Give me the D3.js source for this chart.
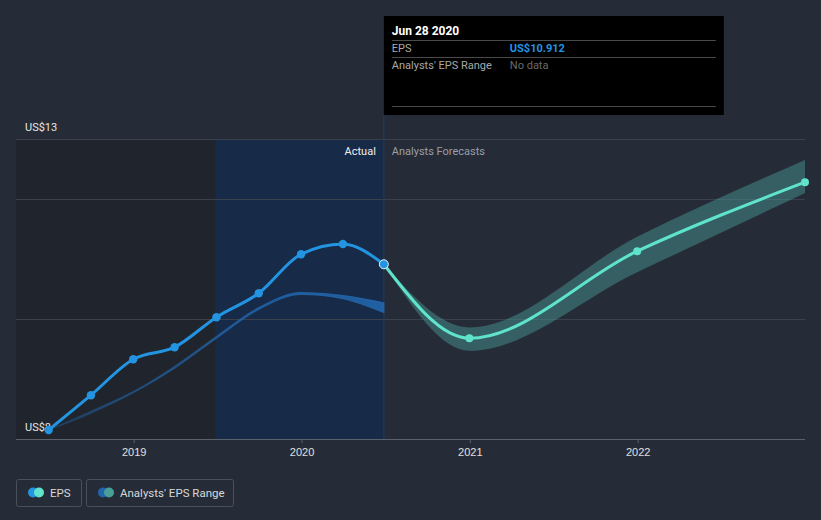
<!DOCTYPE html>
<html><head><meta charset="utf-8">
<script src="https://cdn.jsdelivr.net/npm/d3@7"></script>
<style>
html,body{margin:0;padding:0;background:#262c37;}
svg{display:block;font-family:Roboto,"Open Sans",sans-serif;}
</style></head>
<body><svg id="c" width="821" height="520"></svg>
<script>
// ---- data ----
const actualDates = ["2018-06-30","2018-09-30","2018-12-31","2019-03-31","2019-06-30","2019-09-30","2019-12-31","2020-03-31","2020-06-28"];
const actualEPS   = [8.15, 8.73, 9.33, 9.53, 10.03, 10.43, 11.08, 11.25, 10.912];
const pastRangeLow  = [8.15, 8.43, 8.77, 9.18, 9.68, 10.16, 10.41, 10.34, 10.11];
const pastRangeHigh = [8.15, 8.46, 8.79, 9.21, 9.71, 10.19, 10.44, 10.39, 10.27];
const forecastDates = ["2020-06-28","2020-12-31","2021-12-31","2022-12-31"];
const forecastEPS   = [10.912, 9.68, 11.13, 12.28];
const forecastLow   = [10.912, 9.47, 10.78, 12.10];
const forecastHigh  = [10.912, 9.86, 11.37, 12.65];
const gridValues = [8, 10, 12, 13];
const yTickLabels = [{v:13, t:"US$13"}, {v:8, t:"US$8"}];
const xTickYears = ["2019-01-01","2020-01-01","2021-01-01","2022-01-01"];
const xTickLabels = ["2019","2020","2021","2022"];
const pastStart = "2019-06-28", todayDate = "2020-06-28";

const P = d3.timeParse("%Y-%m-%d");
const svg = d3.select("#c");
const x = d3.scaleTime().domain([P("2018-04-20"), P("2022-12-31")]).range([16, 805]);
const y = d3.scaleLinear().domain([8, 13]).range([439, 139]);

// gradient for past range band
const defs = svg.append("defs");
const grad = defs.append("linearGradient").attr("id","pg").attr("gradientUnits","userSpaceOnUse")
  .attr("x1", x(P(actualDates[0]))).attr("x2", x(P(todayDate))).attr("y1",0).attr("y2",0);
const off = (x(P(pastStart)) - x(P(actualDates[0]))) / (x(P(todayDate)) - x(P(actualDates[0])));
grad.append("stop").attr("offset", 0).attr("stop-color", "#2166ad").attr("stop-opacity", 0.25);
grad.append("stop").attr("offset", off).attr("stop-color", "#2166ad").attr("stop-opacity", 0.6);
grad.append("stop").attr("offset", 1).attr("stop-color", "#2166ad").attr("stop-opacity", 0.9);

// regions
svg.append("rect").attr("x", x.range()[0]).attr("y", y(13)).attr("width", x(P(pastStart)) - x.range()[0]).attr("height", y(8)-y(13)).attr("fill", "#20252d");
svg.append("rect").attr("x", x(P(pastStart))).attr("y", y(13)).attr("width", x(P(todayDate)) - x(P(pastStart))).attr("height", y(8)-y(13)).attr("fill", "#172a47");

// gridlines
svg.selectAll(".g").data(gridValues).enter().append("line")
  .attr("x1", 16).attr("x2", 805).attr("y1", d=>y(d)).attr("y2", d=>y(d))
  .attr("stroke", d=> d===8 ? "#5b616b" : "#3b414c").attr("stroke-width", 1).attr("shape-rendering","crispEdges");

// x axis
const xAxis = d3.axisBottom(x).tickValues(xTickYears.map(P)).tickSize(4).tickFormat((d,i)=>xTickLabels[i]);
const gx = svg.append("g").attr("transform", `translate(0,${y(8)})`).call(xAxis);
gx.select(".domain").remove();
gx.selectAll("line").attr("stroke", "#5b616b");
gx.selectAll("text").attr("fill", "#e0e0e0").attr("font-size", 11).attr("dy", "0.95em");

// y labels
svg.selectAll(".yl").data(yTickLabels).enter().append("text")
  .attr("x", 25).attr("y", d=>y(d.v) - 8).attr("fill", "#e6e6e6").attr("font-size", 11).text(d=>d.t);

// today line
svg.append("line").attr("x1", x(P(todayDate))).attr("x2", x(P(todayDate))).attr("y1", 115).attr("y2", y(8))
  .attr("stroke", "#1e3e68").attr("stroke-width", 1);

// region labels
svg.append("text").attr("x", x(P(todayDate)) - 8).attr("y", 155).attr("text-anchor","end").attr("fill","#f0f0f0").attr("font-size",11).text("Actual");
svg.append("text").attr("x", x(P(todayDate)) + 8).attr("y", 155).attr("fill","#9a9ea6").attr("font-size",11).text("Analysts Forecasts");

const curve = d3.curveMonotoneX;
// past range band
const pastBand = actualDates.map((d,i)=>({d:P(d), lo:pastRangeLow[i], hi:pastRangeHigh[i]}));
svg.append("path").datum(pastBand)
  .attr("d", d3.area().curve(curve).x(d=>x(d.d)).y0(d=>y(d.lo)).y1(d=>y(d.hi)))
  .attr("fill", "url(#pg)").attr("stroke", "url(#pg)").attr("stroke-width", 1.2);

// forecast band
const fBand = forecastDates.map((d,i)=>({d:P(d), lo:forecastLow[i], hi:forecastHigh[i]}));
svg.append("path").datum(fBand)
  .attr("d", d3.area().curve(curve).x(d=>x(d.d)).y0(d=>y(d.lo)).y1(d=>y(d.hi)))
  .attr("fill", "#4a9e98").attr("fill-opacity", 0.45);

// forecast line
const fLine = forecastDates.map((d,i)=>({d:P(d), v:forecastEPS[i]}));
svg.append("path").datum(fLine)
  .attr("d", d3.line().curve(curve).x(d=>x(d.d)).y(d=>y(d.v)))
  .attr("fill","none").attr("stroke","#5fe3cb").attr("stroke-width",3);
svg.selectAll(".fp").data(fLine.slice(1)).enter().append("circle")
  .attr("cx", d=>x(d.d)).attr("cy", d=>y(d.v)).attr("r", 4).attr("fill", "#5fe3cb");

// actual line
const aLine = actualDates.map((d,i)=>({d:P(d), v:actualEPS[i]}));
svg.append("path").datum(aLine)
  .attr("d", d3.line().curve(curve).x(d=>x(d.d)).y(d=>y(d.v)))
  .attr("fill","none").attr("stroke","#2394e1").attr("stroke-width",3);
svg.selectAll(".ap").data(aLine.slice(0,-1)).enter().append("circle")
  .attr("cx", d=>x(d.d)).attr("cy", d=>y(d.v)).attr("r", 4.2).attr("fill", "#2394e1");
const last = aLine[aLine.length-1];
svg.append("circle").attr("cx", x(last.d)).attr("cy", y(last.v)).attr("r", 4.5)
  .attr("fill", "#2394e1").attr("stroke", "#e8f2ff").attr("stroke-width", 1);

// tooltip
const tx = x(P(todayDate));
const tt = svg.append("g").attr("transform", `translate(${tx},16)`);
tt.append("rect").attr("width", 340).attr("height", 99).attr("fill", "#000");
tt.append("text").attr("x", 8).attr("y", 19).attr("fill", "#fff").attr("font-size", 12).attr("font-weight", "bold").text("Jun 28 2020");
[24, 41, 90].forEach(yy=>tt.append("line").attr("x1",8).attr("x2",332).attr("y1",yy+0.5).attr("y2",yy+0.5).attr("stroke","#4a4a4a"));
tt.append("text").attr("x", 8).attr("y", 36).attr("fill", "#a8a8a8").attr("font-size", 11).text("EPS");
tt.append("text").attr("x", 126).attr("y", 36).attr("fill", "#2394e1").attr("font-size", 11).attr("font-weight","bold").text("US$" + actualEPS[actualEPS.length-1].toFixed(3));
tt.append("text").attr("x", 8).attr("y", 53).attr("fill", "#a8a8a8").attr("font-size", 11).text("Analysts' EPS Range");
tt.append("text").attr("x", 126).attr("y", 53).attr("fill", "#6a6a6a").attr("font-size", 11).text("No data");

// legend
const legend = [
  {label:"EPS", x:16, w:65, c1:"#2394e1", c2:"#5fe3cb"},
  {label:"Analysts' EPS Range", x:86, w:147, c1:"#2166ad", c2:"#4a9e98"}
];
const lg = svg.selectAll(".lg").data(legend).enter().append("g").attr("transform", d=>`translate(${d.x},479)`);
lg.append("rect").attr("x",0.5).attr("y",0.5).attr("width", d=>d.w).attr("height", 27).attr("rx", 2)
  .attr("fill","none").attr("stroke","#4b515b");
lg.append("circle").attr("cx", 17).attr("cy", 13.5).attr("r", 5).attr("fill", d=>d.c1);
lg.append("circle").attr("cx", 23).attr("cy", 13.5).attr("r", 5).attr("fill", d=>d.c2);
lg.append("text").attr("x", 34).attr("y", 18).attr("fill", "#d8d8d8").attr("font-size", 11.5).text(d=>d.label);
</script></body></html>
